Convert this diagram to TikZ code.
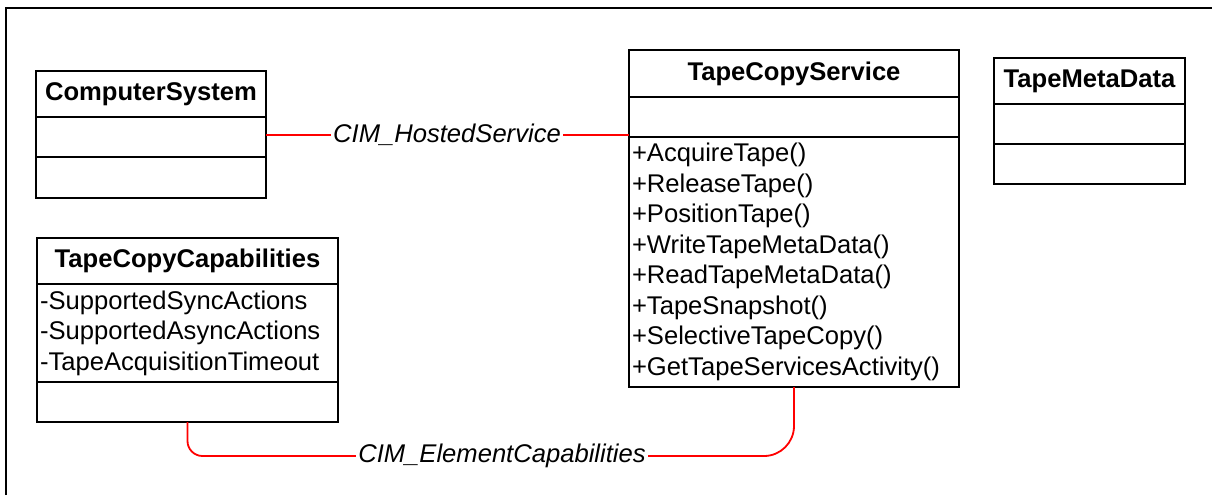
\documentclass[tikz,border=0pt]{standalone}
\usepackage{fontspec}
\setmainfont{Liberation Sans}
\usetikzlibrary{positioning}

\tikzset{
  classhead/.style={draw, line width=1pt, inner sep=0pt, outer sep=0pt, anchor=north west, font=\bfseries},
  classpart/.style={draw, line width=1pt, inner xsep=1.5pt, inner ysep=0pt, outer sep=0pt, align=left},
  assoc/.style={red, line width=0.9pt},
  assoclabel/.style={fill=white, inner sep=1pt, font=\itshape}
}

\begin{document}
\fontsize{12.8}{15.25}\selectfont
\begin{tikzpicture}[x=0.5pt, y=-0.5pt]
    \useasboundingbox (0,0) rectangle (1212,495);

    % Moldura
    \draw[line width=1pt] (6,495) -- (6,8) -- (1212,8);

    % ComputerSystem
    \node[classhead, minimum width=115pt, minimum height=23pt] (cs) at (36,71) {ComputerSystem};
    \node[classpart, minimum width=115pt, minimum height=20pt, below=0pt of cs] (cs-attr) {};
    \node[classpart, minimum width=115pt, minimum height=20.5pt, below=0pt of cs-attr] (cs-ops) {};

    % TapeCopyService
    \node[classhead, minimum width=165pt, minimum height=23.5pt] (tcs) at (629,50) {TapeCopyService};
    \node[classpart, minimum width=165pt, minimum height=20pt, below=0pt of tcs] (tcs-attr) {};
    \node[classpart, text width=162pt, minimum height=125pt, below=0pt of tcs-attr] (tcs-ops)
        {+AcquireTape()\\+ReleaseTape()\\+PositionTape()\\+WriteTapeMetaData()\\+ReadTapeMetaData()\\+TapeSnapshot()\\+SelectiveTapeCopy()\\+GetTapeServicesActivity()};

    % TapeMetaData
    \node[classhead, minimum width=95.5pt, minimum height=23pt] (tmd) at (994,58) {TapeMetaData};
    \node[classpart, minimum width=95.5pt, minimum height=20pt, below=0pt of tmd] (tmd-attr) {};
    \node[classpart, minimum width=95.5pt, minimum height=20pt, below=0pt of tmd-attr] (tmd-ops) {};

    % TapeCopyCapabilities
    \node[classhead, minimum width=150.5pt, minimum height=23pt] (tcc) at (37,238) {TapeCopyCapabilities};
    \node[classpart, text width=147.5pt, minimum height=49pt, below=0pt of tcc] (tcc-attr)
        {-SupportedSyncActions\\-SupportedAsyncActions\\-TapeAcquisitionTimeout};
    \node[classpart, minimum width=150.5pt, minimum height=20pt, below=0pt of tcc-attr] (tcc-ops) {};

    % Associacoes
    \node[assoclabel] (hs) at (447,135) {CIM\_HostedService};
    \draw[assoc] (cs-attr.east |- hs) -- (hs);
    \draw[assoc] (hs) -- (hs -| tcs-attr.west);

    \node[assoclabel] (ec) at (502,456) {CIM\_ElementCapabilities};
    \draw[assoc, rounded corners=7.5pt] (tcc-ops.south) |- (ec);
    \draw[assoc, rounded corners=15pt] (ec) -| (tcs-ops.south);
\end{tikzpicture}
\end{document}
